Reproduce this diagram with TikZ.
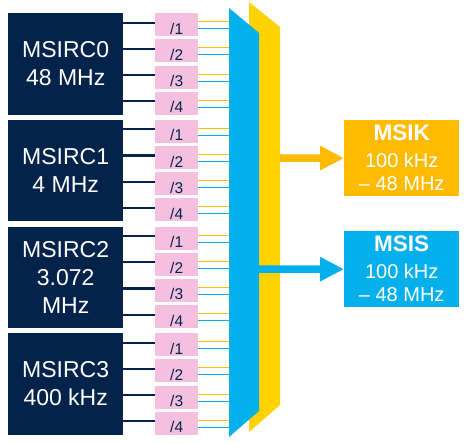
\documentclass[tikz,border=0pt]{standalone}
\usepackage{fontspec}
\setmainfont{Liberation Sans}
\usetikzlibrary{arrows.meta}
\definecolor{navy}{HTML}{03234B}
\definecolor{pinkc}{HTML}{F5BFE0}
\definecolor{bluec}{HTML}{03B0EC}
\definecolor{yellowc}{HTML}{FFD200}
\definecolor{orangec}{HTML}{FFBB00}
\definecolor{thinyel}{HTML}{FFC000}
\begin{document}
\begin{tikzpicture}[x=1pt,y=-1pt,
  darkbox/.style={fill=navy, text=white, font=\fontsize{23}{28}\selectfont, align=center,
    minimum width=115pt, minimum height=101.5pt, inner sep=0pt, anchor=north west},
  divbox/.style={fill=pinkc, text=navy, font=\fontsize{15.5}{18}\selectfont,
    minimum width=43pt, minimum height=23pt, inner sep=0pt, text height=19pt, text depth=0pt,
    anchor=north west},
  outbox/.style={text=white, font=\fontsize{20}{23}\selectfont, align=center,
    minimum width=115pt, minimum height=76pt, inner sep=0pt, anchor=north west},
  darkline/.style={draw=navy, line width=2.2pt},
  yline/.style={draw=thinyel, line width=1pt},
  bline/.style={draw=bluec, line width=1pt},
  bigarrow/.style={line width=7.5pt, -{Triangle[length=24pt,width=23pt]}}
]
\useasboundingbox (0,0) rectangle (470,443);
\coordinate (bl) at (229,0);
% oscillator boxes and dividers
\foreach \i/\txt in {0/{MSIRC0\\48 MHz},1/{MSIRC1\\4 MHz},2/{MSIRC2\\3.072\\MHz},3/{MSIRC3\\400 kHz}}{
  \pgfmathsetmacro{\T}{13+106.67*\i}
  \node[darkbox] (rc\i) at (8,\T) {\txt};
  \foreach \k in {1,...,4}{
    \pgfmathsetmacro{\P}{\T+26.2*(\k-1)}
    \node[divbox] (p\i\k) at (155,\P) {/\k};
    \draw[darkline] ([yshift=2pt]p\i\k.west) -- ([yshift=2pt]p\i\k.west -| rc\i.east);
    \draw[yline] ([yshift=3pt]p\i\k.east) -- ([yshift=3pt]p\i\k.east -| bl);
    \draw[bline] ([yshift=-4pt]p\i\k.east) -- ([yshift=-4pt]p\i\k.east -| bl);
  }
}
% multiplexers
\fill[yellowc] (249,2) -- (280,27) -- (280,405) -- (249,432) -- cycle;
\fill[bluec] (229,8) -- (259,33) -- (259,411) -- (229,437) -- cycle;
% outputs
\node[outbox, fill=orangec] (msik) at (344,120) {{\fontsize{22.5}{26}\selectfont\bfseries MSIK}\\[4pt]100 kHz\\– 48 MHz};
\node[outbox, fill=bluec] (msis) at (344,231) {{\fontsize{22.5}{26}\selectfont\bfseries MSIS}\\[4pt]100 kHz\\– 48 MHz};
\coordinate (yedge) at (280,158);
\coordinate (bedge) at (259,269);
\draw[bigarrow, draw=orangec, fill=orangec] (yedge) -- (msik.west);
\draw[bigarrow, draw=bluec, fill=bluec] (bedge) -- (msis.west);
\end{tikzpicture}
\end{document}
